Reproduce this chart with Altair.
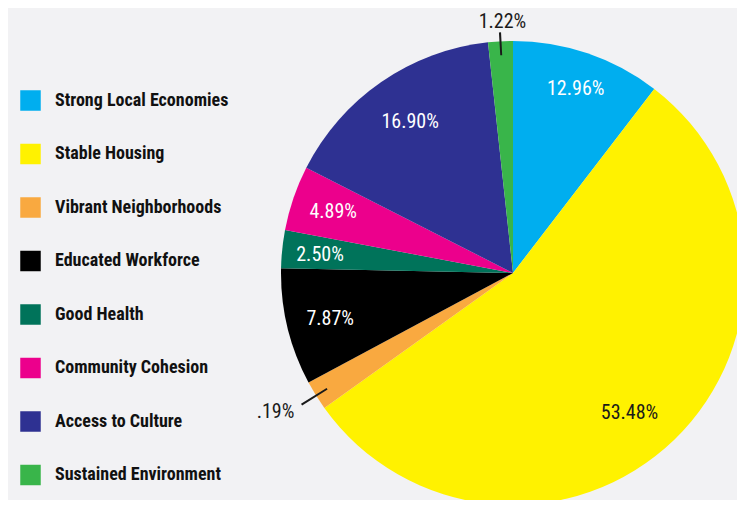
import altair as alt
import pandas as pd

# Categories (legend order = slice order, clockwise from 12 o'clock)
categories = [
    "Strong Local Economies", "Stable Housing", "Vibrant Neighborhoods",
    "Educated Workforce", "Good Health", "Community Cohesion",
    "Access to Culture", "Sustained Environment",
]
# Slice sizes as drawn in the picture (percent of the circle)
drawn_share = [10.42, 54.69, 2.06, 8.16, 2.64, 4.53, 15.78, 1.72]
# Printed labels
label_text = ["12.96%", "53.48%", ".19%", "7.87%", "2.50%", "4.89%", "16.90%", "1.22%"]
colors = ["#00AEEF", "#FFF200", "#F9A940", "#000000", "#00735A", "#EC008C", "#2E3192", "#39B54A"]

outside = {"Vibrant Neighborhoods", "Sustained Environment"}
dark_inside = {"Stable Housing"}

rows = []
acc = 0.0
for c, s, t in zip(categories, drawn_share, label_text):
    rows.append({"cat": c, "share": s, "label": t, "t0": acc, "t1": acc + s,
                 "mid": acc + s / 2, "out": c in outside})
    acc += s
df = pd.DataFrame(rows)

FONT = ("Roboto Condensed, Noto Sans Condensed, Open Sans Condensed, "
        "Liberation Sans Narrow, DejaVu Sans Condensed, Roboto, sans-serif")
CX, CY, R = 505, 265, 232

# label placement style: (radius, dx, dy)
label_style = {
    "Strong Local Economies": (195, 0, 1),
    "Stable Housing": (182, -10, 9),
    "Vibrant Neighborhoods": (275, -4, -6),
    "Educated Workforce": (190, 2, 2),
    "Good Health": (190, -4, 2),
    "Community Cohesion": (190, 0, 0),
    "Access to Culture": (190, 5, 5),
    "Sustained Environment": (251, 3, 0),
}
# leader line style: (inner radius, outer radius)
leader_style = {
    "Vibrant Neighborhoods": (219, 249),
    "Sustained Environment": (218, 241),
}

theta_scale = alt.Scale(domain=[0, 100], range=[0, 6.283185307179586])
base = alt.Chart(df)

pie = base.mark_arc(outerRadius=R, stroke=None).encode(
    theta=alt.Theta("t0:Q", scale=theta_scale, stack=None),
    theta2="t1:Q",
    x=alt.value(CX), y=alt.value(CY),
    color=alt.Color("cat:N", scale=alt.Scale(domain=categories, range=colors),
                    legend=alt.Legend(title=None, orient="none", legendX=12, legendY=82,
                                      symbolType="square", symbolSize=420,
                                      symbolStrokeWidth=0, labelFont=FONT,
                                      labelFontSize=18, labelFontWeight="bold",
                                      labelColor="#111111", labelOffset=14,
                                      labelLimit=400,
                                      rowPadding=32.5, padding=0)),
)

layers = [pie]
for c, (r0, r1) in leader_style.items():
    layers.append(
        base.transform_filter(alt.datum.cat == c).transform_calculate(
            a0="datum.mid - 0.07", a1="datum.mid + 0.07"
        ).mark_arc(color="#1a1a1a").encode(
            theta=alt.Theta("a0:Q", scale=theta_scale, stack=None),
            theta2="a1:Q",
            radius=alt.value(r0), radius2=alt.value(r1),
            x=alt.value(CX), y=alt.value(CY),
        )
    )

for c in categories:
    r, dx, dy = label_style[c]
    col = "#1a1a1a" if (c in outside or c in dark_inside) else "white"
    layers.append(
        base.transform_filter(alt.datum.cat == c).mark_text(
            font=FONT, fontSize=20, color=col, align="center", baseline="middle",
            dx=dx, dy=dy,
        ).encode(
            theta=alt.Theta("mid:Q", scale=theta_scale, stack=None),
            radius=alt.value(r), x=alt.value(CX), y=alt.value(CY),
            text="label:N",
        )
    )

chart = alt.layer(*layers).properties(
    width=729, height=492, background="#F2F2F4",
    autosize=alt.AutoSizeParams(type="none"), padding=0,
).configure_view(stroke=None)

chart.save("out.html", embed_options={"renderer": "svg", "actions": False})
